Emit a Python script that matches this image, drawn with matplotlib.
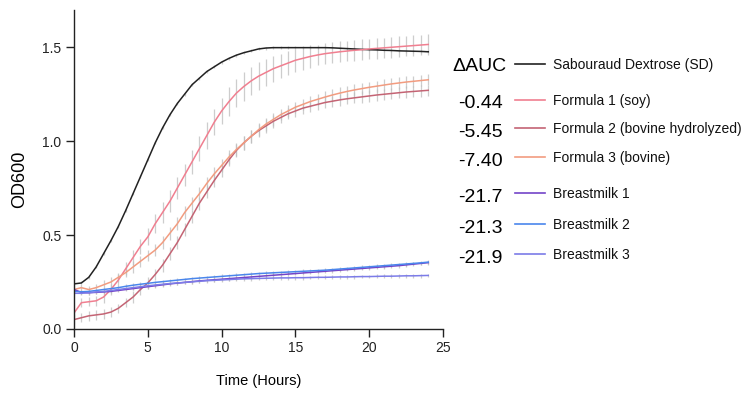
import numpy as np
import matplotlib
matplotlib.use("Agg")
import matplotlib.pyplot as plt
from matplotlib.lines import Line2D

plt.rcParams['font.family'] = ['Liberation Sans', 'DejaVu Sans']

# time points (hours), every 30 min
hours = [i * 0.5 for i in range(49)]

sd = [0.24, 0.245, 0.275, 0.33, 0.40, 0.47, 0.545, 0.63, 0.72, 0.81,
      0.90, 0.99, 1.07, 1.14, 1.20, 1.25, 1.30, 1.335, 1.37, 1.395,
      1.42, 1.44, 1.457, 1.47, 1.48, 1.49, 1.495, 1.497, 1.497, 1.497,
      1.497, 1.497, 1.497, 1.497, 1.497, 1.496, 1.494, 1.492, 1.49, 1.488,
      1.486, 1.485, 1.483, 1.482, 1.48, 1.479, 1.478, 1.477, 1.475]
f1 = [0.085, 0.14, 0.145, 0.15, 0.17, 0.21, 0.26, 0.32, 0.38, 0.44,
      0.49, 0.56, 0.62, 0.68, 0.75, 0.82, 0.89, 0.96, 1.03, 1.10,
      1.16, 1.21, 1.255, 1.29, 1.32, 1.345, 1.365, 1.385, 1.40, 1.415,
      1.43, 1.44, 1.45, 1.458, 1.465, 1.47, 1.475, 1.479, 1.483, 1.486,
      1.49, 1.493, 1.496, 1.499, 1.502, 1.505, 1.508, 1.511, 1.514]
f2 = [0.05, 0.06, 0.07, 0.075, 0.08, 0.09, 0.11, 0.14, 0.17, 0.21,
      0.245, 0.29, 0.34, 0.40, 0.46, 0.53, 0.60, 0.67, 0.73, 0.79,
      0.845, 0.90, 0.95, 0.99, 1.025, 1.055, 1.08, 1.105, 1.125, 1.145,
      1.16, 1.175, 1.185, 1.195, 1.205, 1.212, 1.219, 1.225, 1.23, 1.235,
      1.24, 1.245, 1.249, 1.253, 1.257, 1.261, 1.264, 1.267, 1.27]
f3 = [0.21, 0.22, 0.21, 0.22, 0.235, 0.25, 0.275, 0.30, 0.33, 0.36,
      0.39, 0.42, 0.46, 0.51, 0.56, 0.62, 0.67, 0.72, 0.775, 0.825,
      0.87, 0.915, 0.955, 0.99, 1.025, 1.06, 1.09, 1.115, 1.14, 1.16,
      1.18, 1.195, 1.21, 1.222, 1.234, 1.245, 1.255, 1.264, 1.272, 1.279,
      1.286, 1.292, 1.298, 1.304, 1.309, 1.314, 1.318, 1.322, 1.326]
bm1 = [0.21, 0.195, 0.193, 0.195, 0.197, 0.20, 0.205, 0.21, 0.215, 0.22,
       0.225, 0.23, 0.235, 0.24, 0.244, 0.248, 0.252, 0.256, 0.259, 0.262,
       0.265, 0.268, 0.271, 0.274, 0.277, 0.28, 0.283, 0.286, 0.289, 0.292,
       0.295, 0.298, 0.301, 0.304, 0.307, 0.31, 0.313, 0.316, 0.319, 0.322,
       0.325, 0.328, 0.331, 0.334, 0.337, 0.341, 0.345, 0.349, 0.353]
bm2 = [0.20, 0.198, 0.20, 0.205, 0.21, 0.215, 0.22, 0.227, 0.233, 0.238,
       0.243, 0.248, 0.252, 0.256, 0.26, 0.264, 0.268, 0.271, 0.274, 0.277,
       0.28, 0.283, 0.286, 0.289, 0.292, 0.295, 0.297, 0.299, 0.301, 0.303,
       0.305, 0.307, 0.309, 0.311, 0.313, 0.316, 0.319, 0.322, 0.325, 0.328,
       0.331, 0.334, 0.337, 0.34, 0.343, 0.346, 0.349, 0.352, 0.356]
bm3 = [0.19, 0.19, 0.193, 0.197, 0.20, 0.205, 0.21, 0.215, 0.22, 0.225,
       0.23, 0.234, 0.238, 0.242, 0.245, 0.248, 0.251, 0.254, 0.257, 0.259,
       0.261, 0.263, 0.265, 0.267, 0.268, 0.269, 0.27, 0.271, 0.272, 0.272,
       0.273, 0.273, 0.274, 0.275, 0.275, 0.276, 0.277, 0.277, 0.278, 0.279,
       0.279, 0.28, 0.281, 0.281, 0.282, 0.283, 0.283, 0.284, 0.285]

# standard deviations
sd_err = [0.008] * 49
f1_err = [0.02, 0.025, 0.025, 0.025, 0.03, 0.03, 0.035, 0.035, 0.04, 0.04,
          0.045, 0.05, 0.055, 0.06, 0.06, 0.06, 0.065, 0.065, 0.07, 0.07,
          0.07, 0.075, 0.075, 0.075, 0.075, 0.075, 0.07, 0.07, 0.065, 0.065,
          0.06, 0.06, 0.06, 0.055, 0.055, 0.055, 0.055, 0.055, 0.055, 0.055,
          0.055, 0.055, 0.055, 0.055, 0.055, 0.055, 0.055, 0.055, 0.055]
f2_err = [0.025, 0.025, 0.025, 0.025, 0.025, 0.025, 0.025, 0.025, 0.03, 0.03,
          0.03, 0.03, 0.035, 0.035, 0.035, 0.035, 0.035, 0.035, 0.035, 0.035,
          0.035, 0.035, 0.035, 0.035, 0.035, 0.035, 0.035, 0.035, 0.03, 0.03,
          0.03, 0.03, 0.03, 0.03, 0.03, 0.03, 0.03, 0.03, 0.03, 0.03,
          0.03, 0.03, 0.03, 0.03, 0.03, 0.03, 0.03, 0.03, 0.03]
f3_err = [0.02, 0.02, 0.02, 0.02, 0.025, 0.025, 0.025, 0.025, 0.03, 0.03,
          0.03, 0.03, 0.035, 0.035, 0.035, 0.035, 0.035, 0.035, 0.035, 0.035,
          0.035, 0.035, 0.035, 0.035, 0.035, 0.035, 0.035, 0.035, 0.03, 0.03,
          0.03, 0.03, 0.03, 0.03, 0.03, 0.03, 0.03, 0.03, 0.03, 0.03,
          0.03, 0.03, 0.03, 0.03, 0.03, 0.03, 0.03, 0.03, 0.03]
bm_err = [0.01] * 49

labels = ["Sabouraud Dextrose (SD)", "Formula 1 (soy)",
          "Formula 2 (bovine hydrolyzed)", "Formula 3 (bovine)",
          "Breastmilk 1", "Breastmilk 2", "Breastmilk 3"]
dauc = ["", "-0.44", "-5.45", "-7.40", "-21.7", "-21.3", "-21.9"]
colors = ["#222222", "#f07f90", "#c46474", "#f29c80",
          "#7344c8", "#4a86ec", "#7c7ce8"]
series = [sd, f1, f2, f3, bm1, bm2, bm3]
errs = [sd_err, f1_err, f2_err, f3_err, bm_err, bm_err, bm_err]

W, H = 749, 395
fig = plt.figure(figsize=(W / 100, H / 100), dpi=100)
ax = fig.add_axes([74 / W, 1 - 329 / H, 369 / W, 319.5 / H])

t = np.array(hours)
for y, e in zip(series, errs):
    ax.errorbar(t, y, yerr=e, fmt='none', ecolor='#bdbdbd',
                elinewidth=0.9, alpha=0.75, zorder=1)
for y, c in zip(series, colors):
    ax.plot(t, y, color=c, lw=1.1, zorder=2)

ax.set_xlim(0, 25)
ax.set_ylim(0, 1.7)
ax.set_xticks([0, 5, 10, 15, 20, 25])
ax.set_yticks([0.0, 0.5, 1.0, 1.5])
ax.set_yticklabels(["0.0", "0.5", "1.0", "1.5"])
for s in ["top", "right"]:
    ax.spines[s].set_visible(False)
for s in ["left", "bottom"]:
    ax.spines[s].set_linewidth(1.0)
    ax.spines[s].set_color("#222222")
ax.tick_params(direction='out', length=6, width=1.0, labelsize=10,
               colors="#222222", pad=3)
ax.set_xlabel("Time (Hours)", fontsize=10.5, labelpad=13)
ax.set_ylabel("OD600", fontsize=13)
ax.yaxis.set_label_coords(-0.125, 0.47)

# legend with delta AUC values
row_y = [64, 99.5, 128, 157, 193, 224, 254]
fig.text(452 / W, 1 - 71 / H, "ΔAUC", fontsize=14, ha='left', va='baseline')
for yy, lab, val, c in zip(row_y, labels, dauc, colors):
    fy = 1 - yy / H
    fig.add_artist(Line2D([515 / W, 545 / W], [fy, fy], color=c, lw=1.2))
    fig.text(553 / W, 1 - (yy + 5) / H, lab, fontsize=10, ha='left',
             va='baseline', color="#111111")
    if val:
        fig.text(503 / W, 1 - (yy + 9) / H, val, fontsize=14, ha='right',
                 va='baseline')

fig.savefig("out.png", dpi=100)
